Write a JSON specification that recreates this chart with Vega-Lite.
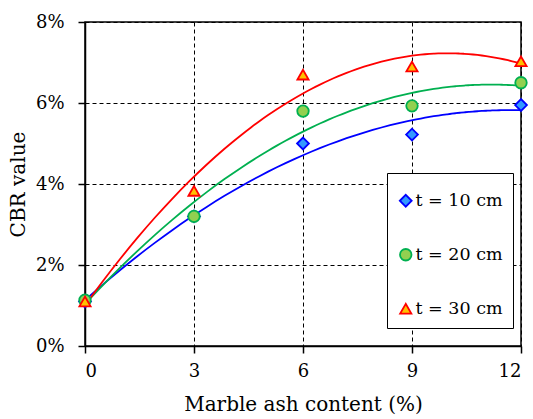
{
  "$schema": "https://vega.github.io/schema/vega-lite/v6.json",
  "autosize": {"type": "none"},
  "padding": {"left": 85, "top": 22, "right": 12, "bottom": 73},
  "width": 436,
  "height": 324,
  "background": "white",
  "config": {
    "font": "DejaVu Serif",
    "view": {"stroke": "black", "strokeWidth": 1.5},
    "axis": {
      "labelFont": "DejaVu Serif", "titleFont": "DejaVu Serif",
      "labelFontSize": 18, "titleFontSize": 20, "titleFontWeight": "normal",
      "labelColor": "black", "titleColor": "black",
      "domainColor": "black", "tickColor": "black", "domainWidth": 1.5, "tickWidth": 1.5,
      "tickSize": 7,
      "grid": true, "gridColor": "black", "gridDash": [4, 3], "gridOpacity": 1, "gridWidth": 1
    },
    "legend": {"labelFont": "DejaVu Serif"}
  },
  "data": {"values": [
    {"ash": 0, "cbr": 1.1, "t": "t = 10 cm"},
    {"ash": 3, "cbr": 3.2, "t": "t = 10 cm"},
    {"ash": 6, "cbr": 5.0, "t": "t = 10 cm"},
    {"ash": 9, "cbr": 5.22, "t": "t = 10 cm"},
    {"ash": 12, "cbr": 5.95, "t": "t = 10 cm"},
    {"ash": 0, "cbr": 1.13, "t": "t = 20 cm"},
    {"ash": 3, "cbr": 3.2, "t": "t = 20 cm"},
    {"ash": 6, "cbr": 5.8, "t": "t = 20 cm"},
    {"ash": 9, "cbr": 5.93, "t": "t = 20 cm"},
    {"ash": 12, "cbr": 6.5, "t": "t = 20 cm"},
    {"ash": 0, "cbr": 1.1, "t": "t = 30 cm"},
    {"ash": 3, "cbr": 3.83, "t": "t = 30 cm"},
    {"ash": 6, "cbr": 6.7, "t": "t = 30 cm"},
    {"ash": 9, "cbr": 6.9, "t": "t = 30 cm"},
    {"ash": 12, "cbr": 7.03, "t": "t = 30 cm"}
  ]},
  "layer": [
    {
      "transform": [
        {"regression": "cbr", "on": "ash", "groupby": ["t"], "method": "poly", "order": 2, "extent": [0, 12]}
      ],
      "mark": {"type": "line", "strokeWidth": 1.8, "interpolate": "monotone"},
      "encoding": {
        "x": {"field": "ash", "type": "quantitative"},
        "y": {"field": "cbr", "type": "quantitative"},
        "stroke": {"field": "t", "type": "nominal",
          "scale": {"domain": ["t = 10 cm", "t = 20 cm", "t = 30 cm"], "range": ["#0000ff", "#00b050", "#ff0000"]}}
      }
    },
    {
      "mark": {"type": "point", "filled": false, "strokeWidth": 1.8, "opacity": 1, "fillOpacity": 1},
      "encoding": {
        "x": {"field": "ash", "type": "quantitative",
          "scale": {"domain": [0, 12], "nice": false},
          "axis": {"values": [0, 3, 6, 9, 12], "title": "Marble ash content (%)", "labelPadding": 9, "titlePadding": 14}},
        "y": {"field": "cbr", "type": "quantitative",
          "scale": {"domain": [0, 8], "nice": false},
          "axis": {"values": [0, 2, 4, 6, 8], "labelExpr": "datum.value + '%'", "title": "CBR value", "labelPadding": 14, "titlePadding": 7}},
        "shape": {"field": "t", "type": "nominal",
          "scale": {"domain": ["t = 10 cm", "t = 20 cm", "t = 30 cm"], "range": ["diamond", "circle", "triangle-up"]}},
        "fill": {"field": "t", "type": "nominal",
          "scale": {"domain": ["t = 10 cm", "t = 20 cm", "t = 30 cm"], "range": ["#3399ff", "#92d050", "#ffc000"]},
          "legend": {
            "title": " ", "titleFontSize": 5, "titlePadding": 4,
            "orient": "none", "legendX": 302, "legendY": 151,
            "direction": "vertical",
            "strokeColor": "black", "fillColor": "white",
            "padding": 10, "rowPadding": 34,
            "labelFont": "DejaVu Serif", "labelFontSize": 17.5, "labelColor": "black",
            "symbolStrokeWidth": 1.8, "labelOffset": 1
          }},
        "stroke": {"field": "t", "type": "nominal"},
        "size": {"field": "t", "type": "nominal",
          "scale": {"domain": ["t = 10 cm", "t = 20 cm", "t = 30 cm"], "range": [140, 125, 200]}}
      }
    }
  ]
}
